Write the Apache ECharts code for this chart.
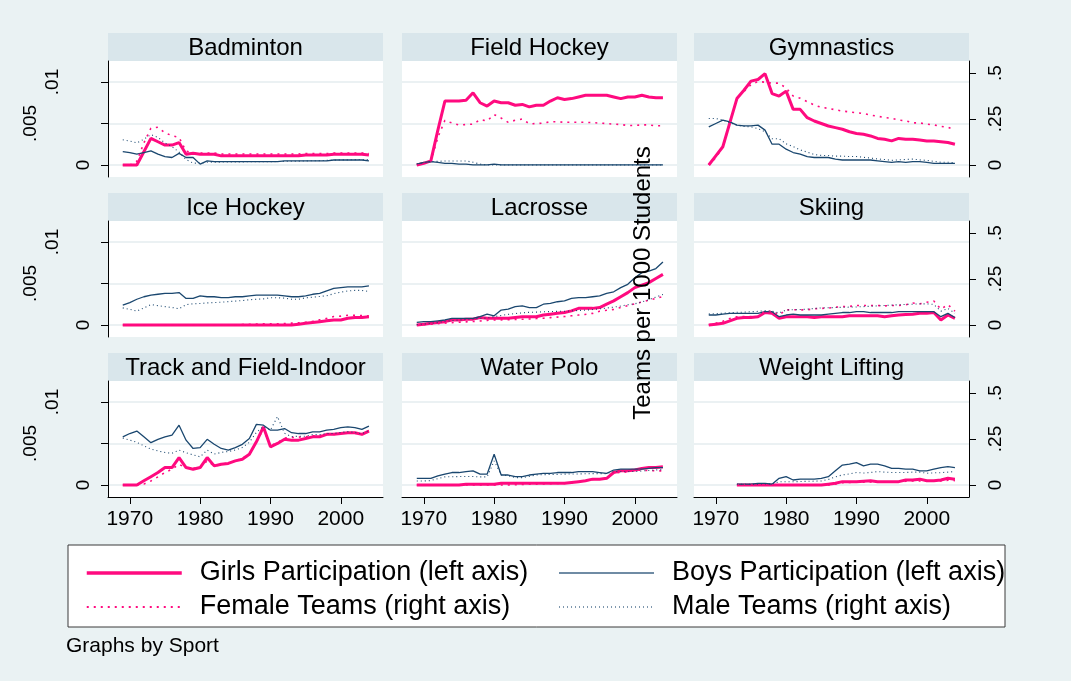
<!DOCTYPE html>
<html><head><meta charset="utf-8">
<script src="https://cdn.jsdelivr.net/npm/echarts@6/dist/echarts.min.js"></script>
<style>html,body{margin:0;padding:0;background:#eaf2f3}#c{width:1071px;height:681px}</style>
</head><body><div id="c"></div>
<script>
// ---------- categories / labels ----------
const years = [1969,1970,1971,1972,1973,1974,1975,1976,1977,1978,1979,1980,1981,1982,1983,1984,1985,1986,1987,1988,1989,1990,1991,1992,1993,1994,1995,1996,1997,1998,1999,2000,2001,2002,2003,2004];
const sports = ['Badminton','Field Hockey','Gymnastics','Ice Hockey','Lacrosse','Skiing','Track and Field-Indoor','Water Polo','Weight Lifting'];
const seriesNames = ['Girls Participation (left axis)','Boys Participation (left axis)','Female Teams (right axis)','Male Teams (right axis)'];
const xTicks = [1970,1980,1990,2000];
const leftTicks = [0,0.005,0.01];
const leftTickLabels = ['0','.005','.01'];
const rightTicks = [0,0.25,0.5];
const rightTickLabels = ['0','.25','.5'];
const rightAxisTitle = 'Teams per 1000 Students';
const noteText = 'Graphs by Sport';

// ---------- data (1969..2004) ----------
const badmintonGirls  = [0,0,0,0.0016,0.0032,0.0028,0.0024,0.0024,0.0027,0.0013,0.0014,0.0013,0.0013,0.0013,0.0011,0.0011,0.0011,0.0011,0.0011,0.0011,0.0011,0.0011,0.0011,0.0011,0.0011,0.0011,0.0012,0.0012,0.0012,0.0012,0.0013,0.0013,0.0013,0.0013,0.0013,0.0012];
const badmintonBoys   = [0.0016,0.0015,0.0013,0.0015,0.0017,0.0013,0.0010,0.0009,0.0014,0.0009,0.0009,0.0001,0.0005,0.0004,0.0004,0.0004,0.0004,0.0004,0.0004,0.0004,0.0004,0.0004,0.0004,0.0005,0.0005,0.0005,0.0005,0.0005,0.0005,0.0005,0.0006,0.0006,0.0006,0.0006,0.0006,0.0005];
const badmintonFemale = [0,0,0.02,0.12,0.2,0.205,0.175,0.16,0.15,0.075,0.065,0.065,0.065,0.065,0.06,0.06,0.06,0.06,0.06,0.06,0.06,0.06,0.06,0.06,0.06,0.06,0.062,0.062,0.062,0.062,0.065,0.065,0.065,0.065,0.065,0.062];
const badmintonMale   = [0.137,0.13,0.12,0.14,0.165,0.15,0.12,0.1,0.07,0.03,0.01,0.01,0.015,0.015,0.016,0.016,0.017,0.017,0.018,0.018,0.018,0.018,0.019,0.02,0.02,0.021,0.022,0.023,0.024,0.025,0.026,0.028,0.028,0.029,0.03,0.03];

const fieldHockeyGirls  = [0,0.0002,0.0005,0.0042,0.0077,0.0077,0.0077,0.0078,0.0087,0.0075,0.0071,0.0077,0.0075,0.0075,0.0072,0.0073,0.0070,0.0072,0.0072,0.0077,0.0081,0.0079,0.0080,0.0082,0.0084,0.0084,0.0084,0.0084,0.0082,0.0080,0.0082,0.0082,0.0084,0.0082,0.0081,0.0081];
const fieldHockeyBoys   = [0.0001,0.0003,0.0004,0.0003,0.0002,0.0002,0.0001,0.0001,0,0,0,0.0001,0,0,0,0,0,0,0,0,0,0,0,0,0,0,0,0,0,0,0,0,0,0,0,0];
const fieldHockeyFemale = [0,0.01,0.02,0.15,0.243,0.228,0.217,0.22,0.222,0.246,0.24,0.274,0.255,0.232,0.243,0.25,0.224,0.225,0.228,0.235,0.235,0.232,0.232,0.232,0.232,0.23,0.228,0.225,0.222,0.22,0.215,0.215,0.218,0.218,0.213,0.213];
const fieldHockeyMale   = [0.005,0.012,0.018,0.02,0.022,0.022,0.022,0.022,0.015,0.005,0,0,0,0,0,0,0,0,0,0,0,0,0,0,0,0,0,0,0,0,0,0,0,0,0,0];

const gymnasticsGirls  = [0,0.0011,0.0022,0.0051,0.0080,0.0090,0.0101,0.0103,0.0110,0.0086,0.0083,0.0089,0.0067,0.0067,0.0057,0.0053,0.0050,0.0047,0.0045,0.0043,0.0040,0.0038,0.0037,0.0035,0.0032,0.0031,0.0029,0.0032,0.0031,0.0031,0.0030,0.0029,0.0029,0.0028,0.0027,0.0025];
const gymnasticsBoys   = [0.0046,0.0050,0.0054,0.0052,0.0048,0.0047,0.0047,0.0048,0.0042,0.0025,0.0025,0.0019,0.0015,0.0013,0.0010,0.0009,0.0009,0.0009,0.0007,0.0006,0.0006,0.0006,0.0006,0.0006,0.0005,0.0004,0.0003,0.0004,0.0003,0.0004,0.0004,0.0003,0.0002,0.0002,0.0002,0.0002];
const gymnasticsFemale = [0,0.04,0.097,0.23,0.363,0.4,0.436,0.454,0.45,0.445,0.445,0.418,0.375,0.363,0.344,0.326,0.313,0.308,0.3,0.293,0.289,0.284,0.28,0.271,0.265,0.258,0.254,0.244,0.24,0.229,0.229,0.222,0.218,0.21,0.205,0.189];
const gymnasticsMale   = [0.253,0.253,0.244,0.23,0.216,0.21,0.207,0.198,0.18,0.143,0.143,0.115,0.1,0.082,0.07,0.057,0.052,0.052,0.048,0.048,0.046,0.046,0.042,0.038,0.033,0.03,0.025,0.028,0.03,0.032,0.028,0.025,0.02,0.015,0.015,0.013];

const iceHockeyGirls  = [0,0,0,0,0,0,0,0,0,0,0,0,0,0,0,0,0,0,0,0,0,0,0,0,0,0.0001,0.0002,0.0003,0.0004,0.0005,0.0006,0.0006,0.0008,0.0009,0.0009,0.0010];
const iceHockeyBoys   = [0.0024,0.0027,0.0031,0.0034,0.0036,0.0037,0.0038,0.0038,0.0039,0.0032,0.0032,0.0035,0.0034,0.0034,0.0033,0.0033,0.0034,0.0034,0.0035,0.0036,0.0036,0.0036,0.0036,0.0035,0.0034,0.0034,0.0035,0.0037,0.0038,0.0041,0.0044,0.0045,0.0046,0.0046,0.0046,0.0047];
const iceHockeyFemale = [0,0,0,0,0,0,0,0,0,0,0,0,0,0,0,0,0,0.003,0.004,0.005,0.006,0.006,0.007,0.008,0.01,0.012,0.015,0.02,0.028,0.036,0.046,0.048,0.053,0.053,0.051,0.049];
const iceHockeyMale   = [0.093,0.085,0.075,0.093,0.111,0.105,0.1,0.095,0.088,0.111,0.115,0.117,0.12,0.122,0.124,0.127,0.13,0.133,0.137,0.14,0.142,0.148,0.148,0.146,0.14,0.14,0.148,0.151,0.155,0.159,0.17,0.179,0.185,0.188,0.188,0.182];

const lacrosseGirls  = [0,0.0001,0.0002,0.0003,0.0004,0.0006,0.0006,0.0007,0.0007,0.0009,0.0008,0.0008,0.0008,0.0008,0.0009,0.0010,0.0010,0.0010,0.0012,0.0013,0.0014,0.0015,0.0017,0.0020,0.0020,0.0020,0.0021,0.0025,0.0029,0.0034,0.0039,0.0045,0.0048,0.0051,0.0056,0.0061];
const lacrosseBoys   = [0.0003,0.0004,0.0004,0.0005,0.0006,0.0008,0.0008,0.0008,0.0008,0.0010,0.0013,0.0011,0.0018,0.0019,0.0022,0.0023,0.0021,0.0021,0.0025,0.0026,0.0028,0.0029,0.0032,0.0033,0.0033,0.0034,0.0035,0.0038,0.0040,0.0045,0.0049,0.0057,0.0063,0.0065,0.0068,0.0076];
const lacrosseFemale = [0,0.002,0.004,0.007,0.01,0.013,0.015,0.017,0.019,0.022,0.025,0.027,0.028,0.029,0.03,0.031,0.033,0.035,0.037,0.04,0.043,0.046,0.05,0.054,0.058,0.063,0.075,0.08,0.085,0.095,0.105,0.115,0.125,0.135,0.145,0.155];
const lacrosseMale   = [0.002,0.005,0.009,0.014,0.02,0.024,0.027,0.03,0.033,0.036,0.038,0.045,0.052,0.058,0.062,0.066,0.069,0.07,0.072,0.073,0.074,0.075,0.077,0.079,0.081,0.084,0.088,0.092,0.097,0.103,0.11,0.115,0.125,0.138,0.152,0.166];

const skiingGirls  = [0,0.0001,0.0002,0.0005,0.0008,0.0009,0.0009,0.0010,0.0015,0.0014,0.0008,0.0010,0.0010,0.0010,0.0010,0.0009,0.0010,0.0010,0.0010,0.0010,0.0011,0.0011,0.0011,0.0011,0.0011,0.0010,0.0011,0.0012,0.00125,0.0013,0.0014,0.0014,0.0015,0.0006,0.0012,0.0008];
const skiingBoys   = [0.0012,0.0012,0.0013,0.0014,0.0014,0.0014,0.0014,0.0014,0.0016,0.0016,0.0010,0.0012,0.0013,0.0012,0.0012,0.0012,0.0012,0.0013,0.0014,0.0015,0.0015,0.0016,0.0016,0.0015,0.0015,0.0015,0.0015,0.0016,0.0016,0.0016,0.0016,0.0016,0.0016,0.0010,0.0014,0.0009];
const skiingFemale = [0,0.01,0.02,0.035,0.045,0.046,0.046,0.046,0.075,0.075,0.055,0.082,0.083,0.082,0.083,0.088,0.09,0.092,0.097,0.1,0.101,0.106,0.106,0.106,0.106,0.104,0.106,0.106,0.11,0.12,0.115,0.124,0.13,0.086,0.111,0.075];
const skiingMale   = [0.06,0.062,0.064,0.066,0.069,0.07,0.072,0.074,0.078,0.075,0.065,0.082,0.083,0.084,0.086,0.09,0.093,0.094,0.095,0.096,0.097,0.098,0.1,0.102,0.104,0.106,0.108,0.11,0.112,0.113,0.115,0.115,0.112,0.075,0.09,0.064];

const trackGirls  = [0,0,0,0.0005,0.0010,0.0015,0.0021,0.0021,0.0033,0.0021,0.0019,0.0021,0.0033,0.0023,0.0025,0.0026,0.0029,0.0031,0.0037,0.0052,0.0070,0.0046,0.0050,0.0055,0.0054,0.0054,0.0056,0.0058,0.0058,0.0061,0.0061,0.0062,0.0063,0.0063,0.0061,0.0065];
const trackBoys   = [0.0058,0.0062,0.0065,0.0058,0.0051,0.0055,0.0058,0.0060,0.0072,0.0054,0.0044,0.0045,0.0055,0.0049,0.0044,0.0042,0.0045,0.0049,0.0056,0.0073,0.0072,0.0066,0.0066,0.0068,0.0063,0.0062,0.0062,0.0064,0.0064,0.0066,0.0067,0.0069,0.0070,0.0069,0.0067,0.0071];
const trackFemale = [0,0,0,0.005,0.022,0.044,0.068,0.086,0.113,0.091,0.09,0.095,0.131,0.104,0.11,0.122,0.13,0.146,0.168,0.232,0.305,0.214,0.23,0.255,0.258,0.26,0.262,0.268,0.268,0.275,0.275,0.281,0.284,0.281,0.275,0.296];
const trackMale   = [0.255,0.244,0.232,0.213,0.195,0.185,0.177,0.172,0.19,0.175,0.164,0.153,0.19,0.168,0.177,0.182,0.19,0.204,0.232,0.286,0.318,0.299,0.372,0.281,0.263,0.265,0.265,0.274,0.274,0.28,0.28,0.286,0.29,0.286,0.278,0.296];

const waterPoloGirls  = [0,0,0,0,0,0,0,0.0001,0.0001,0.0001,0.0001,0.0001,0.0002,0.0002,0.0002,0.0002,0.0002,0.0002,0.0002,0.0002,0.0002,0.0002,0.0003,0.0004,0.0005,0.0007,0.0007,0.0008,0.0015,0.0017,0.0017,0.0018,0.0020,0.0021,0.0021,0.0022];
const waterPoloBoys   = [0.0008,0.0008,0.0008,0.0011,0.0013,0.0015,0.0015,0.0016,0.0017,0.0013,0.0013,0.0037,0.0012,0.0012,0.0010,0.0010,0.0012,0.0013,0.0014,0.0014,0.0015,0.0015,0.0015,0.0016,0.0016,0.0016,0.0015,0.0014,0.0018,0.0019,0.0019,0.0019,0.0019,0.0020,0.0021,0.0021];
const waterPoloFemale = [0,0,0,0,0,0,0,0,0,0,0,0,0,0,0.002,0.003,0.004,0.005,0.006,0.007,0.008,0.009,0.012,0.016,0.022,0.03,0.034,0.036,0.066,0.068,0.072,0.08,0.08,0.078,0.077,0.077];
const waterPoloMale   = [0.022,0.022,0.024,0.035,0.044,0.045,0.046,0.046,0.046,0.044,0.044,0.131,0.055,0.05,0.04,0.04,0.047,0.055,0.056,0.057,0.058,0.059,0.06,0.06,0.061,0.062,0.062,0.062,0.073,0.073,0.073,0.073,0.076,0.079,0.082,0.084];

const weightLiftingGirls  = [null,null,null,null,0,0,0,0,0,0,0,0,0,0,0,0,0,0.0001,0.0002,0.0004,0.0004,0.0004,0.00045,0.0005,0.0004,0.0004,0.0004,0.0004,0.0006,0.0006,0.0007,0.0005,0.0005,0.0006,0.0008,0.0007];
const weightLiftingBoys   = [null,null,null,null,0.0001,0.0001,0.0001,0.0002,0.0002,0.0001,0.0008,0.0010,0.0006,0.0007,0.0007,0.0007,0.0008,0.0010,0.0017,0.0024,0.0025,0.0027,0.0023,0.0025,0.0025,0.0023,0.0020,0.0020,0.0019,0.0019,0.0017,0.0017,0.0019,0.0021,0.0022,0.0021];
const weightLiftingFemale = [null,null,null,null,0,0,0,0,0,0,0,0,0,0,0,0,0,0,0.005,0.013,0.014,0.016,0.015,0.016,0.016,0.016,0.016,0.017,0.02,0.022,0.022,0.02,0.02,0.022,0.026,0.024];
const weightLiftingMale   = [null,null,null,null,0.004,0.004,0.004,0.005,0.006,0.006,0.018,0.018,0.018,0.019,0.02,0.021,0.022,0.03,0.044,0.055,0.06,0.068,0.065,0.068,0.073,0.07,0.068,0.068,0.068,0.07,0.07,0.064,0.066,0.067,0.07,0.073];

const panels = [
  [badmintonGirls, badmintonBoys, badmintonFemale, badmintonMale],
  [fieldHockeyGirls, fieldHockeyBoys, fieldHockeyFemale, fieldHockeyMale],
  [gymnasticsGirls, gymnasticsBoys, gymnasticsFemale, gymnasticsMale],
  [iceHockeyGirls, iceHockeyBoys, iceHockeyFemale, iceHockeyMale],
  [lacrosseGirls, lacrosseBoys, lacrosseFemale, lacrosseMale],
  [skiingGirls, skiingBoys, skiingFemale, skiingMale],
  [trackGirls, trackBoys, trackFemale, trackMale],
  [waterPoloGirls, waterPoloBoys, waterPoloFemale, waterPoloMale],
  [weightLiftingGirls, weightLiftingBoys, weightLiftingFemale, weightLiftingMale]
];

// ---------- layout & style ----------
const FONT = '"Liberation Sans", Arial, Helvetica, sans-serif';
const PINK = '#ff0a7f', NAVY = '#1a476f';
const colLeft = [108, 402, 694], rowTop = [61, 221, 381], W = 275, H = 116, STRIP = 28;
const xRange = [1966.9, 2006];
const leftRange = [-0.00145, 0.01253];
const rightRange = [-0.0652, 0.5652];
const lineStyles = [
  {color: PINK, width: 3, type: 'solid'},
  {color: NAVY, width: 1.3, type: 'solid'},
  {color: PINK, width: 1.6, type: [2, 5]},
  {color: NAVY, width: 1.1, type: [1, 3]}
];
const onRightAxis = [false, false, true, true]; // girls, boys, female teams, male teams
const leftPad = [0, 53, 31]; // per label 0, .005, .01

const grids = [], xAxes = [], yAxes = [], series = [], graphics = [];
function near(a, b) { return Math.abs(a - b) < 1e-9; }

panels.forEach((arrs, i) => {
  const r = Math.floor(i / 3), c = i % 3;
  grids.push({left: colLeft[c], top: rowTop[r], width: W, height: H, show: true, backgroundColor: '#ffffff', borderWidth: 0, containLabel: false});
  const bottomRow = r === 2;
  xAxes.push({
    type: 'value', gridIndex: i, min: xRange[0], max: xRange[1], minInterval: 10, maxInterval: 10,
    splitLine: {show: false},
    axisLine: {show: bottomRow, onZero: false, lineStyle: {color: '#000', width: 1}},
    axisTick: {show: bottomRow, length: 7, customValues: xTicks, lineStyle: {color: '#000'}},
    axisLabel: {show: bottomRow, customValues: xTicks, margin: 12,
      fontSize: 21, fontFamily: FONT, color: '#000',
      formatter: v => xTicks.some(t => near(t, v)) ? String(Math.round(v)) : ''}
  });
  const firstCol = c === 0, lastCol = c === 2;
  yAxes.push({
    type: 'value', gridIndex: i, position: 'left', min: leftRange[0], max: leftRange[1],
    minInterval: 0.005, maxInterval: 0.005,
    splitLine: {show: true, lineStyle: {color: '#e4ecef', width: 1.5}},
    axisLine: {show: firstCol, onZero: false, lineStyle: {color: '#000', width: 1}},
    axisTick: {show: true, length: firstCol ? 7 : 0, customValues: leftTicks, lineStyle: {color: firstCol ? '#000' : 'rgba(0,0,0,0)'}},
    axisLabel: {show: firstCol, customValues: leftTicks, rotate: 90, margin: 15,
      fontSize: 19, fontFamily: FONT, color: '#000',
      formatter: v => {
        const k = leftTicks.findIndex(t => near(t, v));
        if (k < 0) return '';
        return '{p' + k + '|' + leftTickLabels[k] + '}';
      },
      rich: {
        p0: {fontSize: 19, fontFamily: FONT, color: '#000', padding: [0, 0, leftPad[0], 0]},
        p1: {fontSize: 19, fontFamily: FONT, color: '#000', padding: [0, 0, leftPad[1], 0]},
        p2: {fontSize: 19, fontFamily: FONT, color: '#000', padding: [0, 0, leftPad[2], 0]}
      }}
  });
  yAxes.push({
    type: 'value', gridIndex: i, position: 'right', min: rightRange[0], max: rightRange[1],
    minInterval: 0.25, maxInterval: 0.25,
    splitLine: {show: false},
    axisLine: {show: lastCol, onZero: false, lineStyle: {color: '#000', width: 1}},
    axisTick: {show: lastCol, length: 7, customValues: rightTicks, lineStyle: {color: '#000'}},
    axisLabel: {show: lastCol, customValues: rightTicks, rotate: 90, margin: 17,
      fontSize: 19, fontFamily: FONT, color: '#000',
      formatter: v => { const k = rightTicks.findIndex(t => near(t, v)); return k < 0 ? '' : rightTickLabels[k]; }}
  });
  arrs.forEach((arr, s) => {
    series.push({
      type: 'line', name: seriesNames[s], xAxisIndex: i, yAxisIndex: 2 * i + (onRightAxis[s] ? 1 : 0),
      data: years.map((y, k) => [y, arr[k]]).filter(p => p[1] !== null),
      symbol: 'none', showSymbol: false, lineStyle: lineStyles[s], itemStyle: {color: lineStyles[s].color},
      silent: true, z: 2 + s
    });
  });
  // strip header
  graphics.push({type: 'rect', silent: true, z: 0, shape: {x: colLeft[c], y: rowTop[r] - STRIP, width: W, height: STRIP}, style: {fill: '#d9e6eb'}});
  graphics.push({type: 'text', silent: true, z: 1, x: colLeft[c] + W / 2, y: rowTop[r] - STRIP / 2 + 1,
    style: {text: sports[i], fontSize: 24, fontFamily: FONT, fill: '#000', align: 'center', verticalAlign: 'middle'}});
});

// legend box, axis title, note
graphics.push({type: 'rect', silent: true, z: -1, shape: {x: 68, y: 545, width: 937, height: 82}, style: {fill: '#ffffff', stroke: '#3a3a3a', lineWidth: 1}});
graphics.push({type: 'text', silent: true, z: 5, x: 643, y: 283, rotation: Math.PI / 2,
  style: {text: rightAxisTitle, fontSize: 24, fontFamily: FONT, fill: '#000', align: 'center', verticalAlign: 'middle'}});
graphics.push({type: 'text', silent: true, z: 1, x: 66, y: 646,
  style: {text: noteText, fontSize: 21, fontFamily: FONT, fill: '#000', align: 'left', verticalAlign: 'middle'}});

const legendText = {fontSize: 27, fontFamily: FONT, color: '#000', padding: [0, 0, 0, 13], lineHeight: 30};
const legendCommon = {orient: 'vertical', top: 553, itemWidth: 95, itemHeight: 14, itemGap: 4, selectedMode: false,
  textStyle: legendText, itemStyle: {opacity: 0, borderWidth: 0}};
const option = {
  backgroundColor: '#eaf2f3',
  animation: false,
  grid: grids, xAxis: xAxes, yAxis: yAxes, series: series,
  legend: [
    Object.assign({data: [
      {name: seriesNames[0], lineStyle: {width: 3.5}},
      {name: seriesNames[2]}
    ], left: 80}, legendCommon),
    Object.assign({data: [
      {name: seriesNames[1], lineStyle: {width: 2, color: '#6f8ba4'}},
      {name: seriesNames[3], lineStyle: {color: '#7f98ae'}}
    ], left: 553}, legendCommon)
  ],
  graphic: graphics
};
const chart = echarts.init(document.getElementById('c'), null, {renderer: 'canvas'});
chart.setOption(option);
</script></body></html>
